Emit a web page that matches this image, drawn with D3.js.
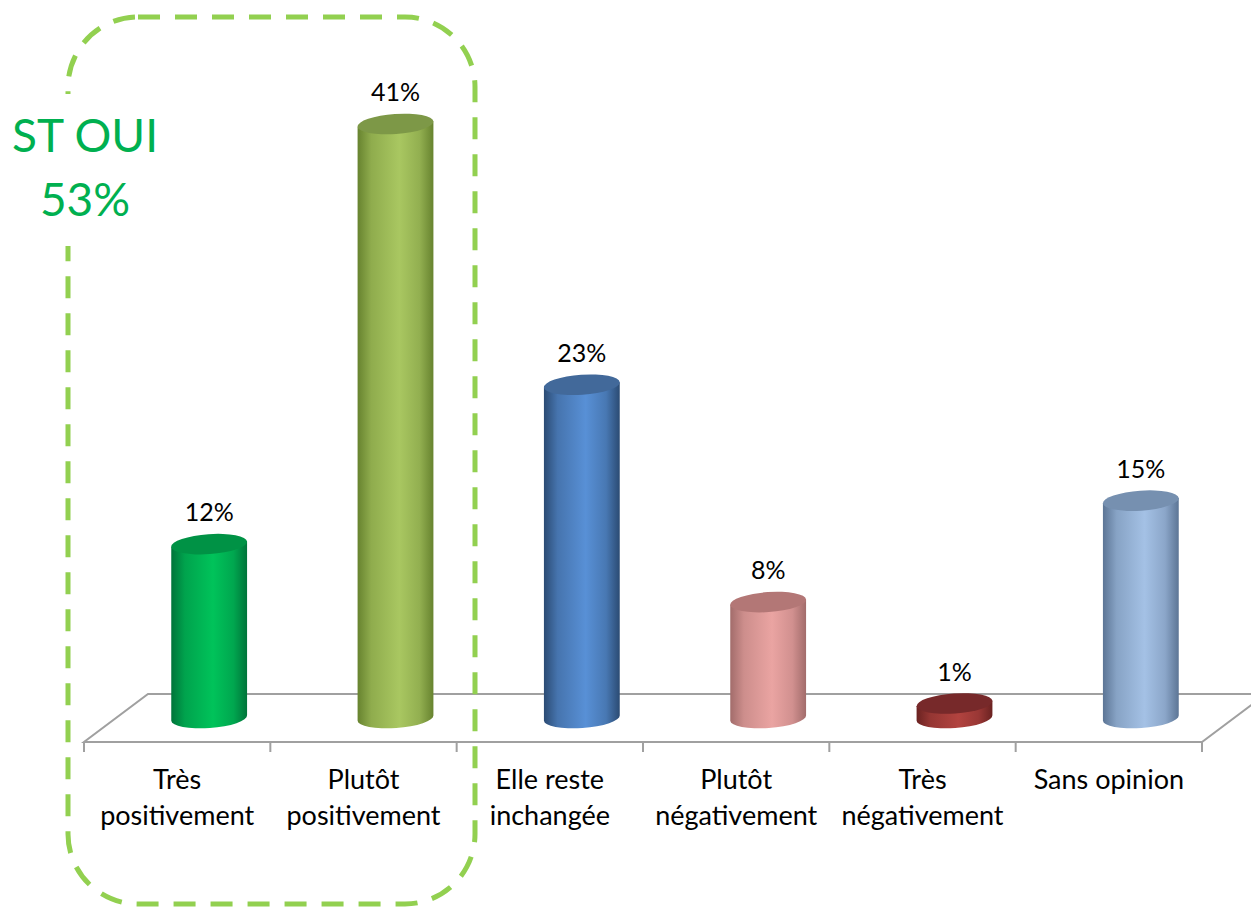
<!DOCTYPE html>
<html>
<head>
<meta charset="utf-8">
<script src="https://cdn.jsdelivr.net/npm/d3@7"></script>
<style>
  body { margin: 0; background: #fff; }
  svg { display: block; font-family: Lato, "Open Sans", sans-serif; }
</style>
</head>
<body>
<div id="chart"></div>
<script>
// chart data
var categories = ["Très positivement", "Plutôt positivement", "Elle reste inchangée",
                  "Plutôt négativement", "Très négativement", "Sans opinion"];
var labelLines = [["Très", "positivement"], ["Plutôt", "positivement"], ["Elle reste", "inchangée"],
                  ["Plutôt", "négativement"], ["Très", "négativement"], ["Sans opinion"]];
var values = [12, 41, 23, 8, 1, 15];
var barColors = [
  {dark: "#00743a", light: "#00c35a", top: "#009245"},
  {dark: "#67832f", light: "#a9c761", top: "#7d9847"},
  {dark: "#2b4b73", light: "#5890d6", top: "#42699a"},
  {dark: "#a26c6b", light: "#eaa4a2", top: "#b37776"},
  {dark: "#6a2221", light: "#b2433f", top: "#77292a"},
  {dark: "#5c7595", light: "#a4c1e5", top: "#7690b0"}
];
var groupTitle = ["ST OUI", "53%"];

var W = 1251, H = 908;
var svg = d3.select("#chart").append("svg")
    .attr("width", W).attr("height", H);
var defs = svg.append("defs");

//floor geometry
var front = 742, back = 694, depth = 64;
var x = d3.scaleBand().domain(categories).range([84, 1202]).padding(0);
var y = d3.scaleLinear().domain([0, 41]).range([(front + back) / 2, 124]);

var floor = svg.append("g").attr("stroke", "#a0a0a0").attr("stroke-width", 2).attr("fill", "none");
floor.append("path")
    .attr("d", "M" + (1202 + depth) + "," + back + "L" + (84 + depth) + "," + back +
      "L84," + front + "L1202," + front + "L" + (1202 + depth) + "," + back);
floor.selectAll("line.tick")
    .data(d3.range(categories.length + 1))
    .enter().append("line")
    .attr("x1", function (i) { return 84 + i * x.bandwidth(); })
    .attr("x2", function (i) { return 84 + i * x.bandwidth(); })
    .attr("y1", front).attr("y2", front + 10);

//gradients for the cylinders
barColors.forEach(function (c, i) {
  var g = defs.append("linearGradient").attr("id", "cyl" + i)
      .attr("x1", 0).attr("x2", 1).attr("y1", 0).attr("y2", 0);
  g.append("stop").attr("offset", 0).attr("stop-color", c.dark);
  g.append("stop").attr("offset", 0.18).attr("stop-color", d3.interpolateRgb(c.dark, c.light)(0.6));
  g.append("stop").attr("offset", 0.55).attr("stop-color", c.light);
  g.append("stop").attr("offset", 0.82).attr("stop-color", d3.interpolateRgb(c.dark, c.light)(0.65));
  g.append("stop").attr("offset", 1).attr("stop-color", c.dark);
});

var rx = 38, ry = 10, tilt = -4;
var ct = Math.cos(tilt * Math.PI / 180), st = Math.sin(tilt * Math.PI / 180);

var bars = svg.append("g").selectAll("g.bar")
    .data(values).enter().append("g").attr("class", "bar");

bars.append("path")
    .attr("fill", function (d, i) { return "url(#cyl" + i + ")"; })
    .attr("d", function (d, i) {
      var cx = x(categories[i]) + x.bandwidth() / 2 + depth / 2;
      var yt = y(d), yb = y(0);
      var lx = cx - rx * ct, rxp = cx + rx * ct;
      return "M" + lx + "," + (yt - rx * st) +
        "L" + lx + "," + (yb - rx * st) +
        "A" + rx + "," + ry + " " + tilt + " 0 0 " + rxp + "," + (yb + rx * st) +
        "L" + rxp + "," + (yt + rx * st) + "Z";
    });

bars.append("ellipse")
    .attr("fill", function (d, i) { return barColors[i].top; })
    .attr("rx", rx).attr("ry", ry)
    .attr("transform", function (d, i) {
      var cx = x(categories[i]) + x.bandwidth() / 2 + depth / 2;
      return "translate(" + cx + "," + y(d) + ") rotate(" + tilt + ")";
    });

bars.append("text")
    .attr("x", function (d, i) { return x(categories[i]) + x.bandwidth() / 2 + depth / 2; })
    .attr("y", function (d) { return y(d) - 23; })
    .attr("text-anchor", "middle")
    .attr("font-size", 25)
    .attr("fill", "#000")
    .text(function (d) { return d + "%"; });

//category labels
svg.append("g").selectAll("text")
    .data(labelLines).enter().append("text")
    .attr("text-anchor", "middle")
    .attr("font-size", 27)
    .attr("x", function (d, i) { return x(categories[i]) + x.bandwidth() / 2; })
    .attr("y", 789)
    .selectAll("tspan").data(function (d) { return d; }).enter().append("tspan")
    .attr("x", function () { return d3.select(this.parentNode).attr("x"); })
    .attr("dy", function (d, j) { return j === 0 ? 0 : 36; })
    .text(function (d) { return d; });

//dashed grouping box with its title
svg.append("rect")
    .attr("x", 68).attr("y", 17).attr("width", 407).attr("height", 887)
    .attr("rx", 70).attr("ry", 70)
    .attr("fill", "none").attr("stroke", "#92d050")
    .attr("stroke-width", 5).attr("stroke-dasharray", "22,15");
svg.append("rect")
    .attr("x", 8).attr("y", 94).attr("width", 155).attr("height", 152)
    .attr("fill", "#fff");
svg.append("text")
    .attr("text-anchor", "middle").attr("fill", "#00b050").attr("font-size", 46)
    .selectAll("tspan").data(groupTitle).enter().append("tspan")
    .attr("x", 85).attr("y", function (d, i) { return 152 + i * 64; })
    .text(function (d) { return d; });
</script>
</body>
</html>
